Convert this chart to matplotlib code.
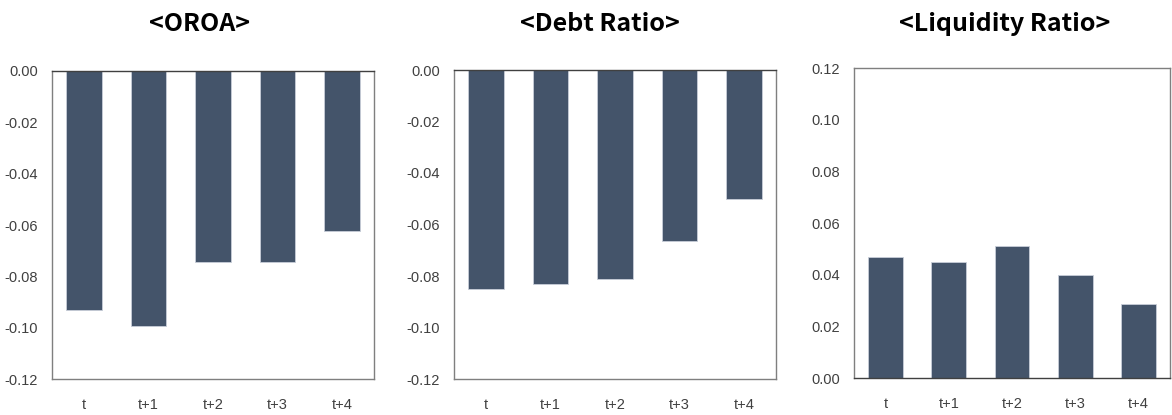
import matplotlib
matplotlib.use("Agg")
import matplotlib.pyplot as plt

categories = ["t", "t+1", "t+2", "t+3", "t+4"]
oroa = [-0.093, -0.0995, -0.0745, -0.0745, -0.0625]
debt_ratio = [-0.085, -0.083, -0.081, -0.0665, -0.050]
liquidity_ratio = [0.047, 0.045, 0.051, 0.040, 0.0285]
titles = ["<OROA>", "<Debt Ratio>", "<Liquidity Ratio>"]
neg_ticks = [0.00, -0.02, -0.04, -0.06, -0.08, -0.10, -0.12]
pos_ticks = [0.00, 0.02, 0.04, 0.06, 0.08, 0.10, 0.12]

tick_font = ["Liberation Sans", "DejaVu Sans"]
title_font = ["Noto Sans CJK KR", "DejaVu Sans"]

BAR = "#44546A"
fig = plt.figure(figsize=(11.72, 4.15), dpi=100)

panels = [
    (oroa, neg_ticks, (-0.12, 0.0), [52, 379, 322, 308], 199),
    (debt_ratio, neg_ticks, (-0.12, 0.0), [454, 379, 322, 309], 600),
    (liquidity_ratio, pos_ticks, (0.0, 0.12), [854, 378, 316, 310], 1005),
]
W, H = 1172, 415
for (vals, ticks, ylim, (l, b, w, h), tx), title in zip(panels, titles):
    ax = fig.add_axes([l / W, (H - b) / H, w / W, h / H])
    x = list(range(len(categories)))
    ax.bar(x, vals, width=0.55, color=BAR, edgecolor="#c8ced8", linewidth=0.6, zorder=2)
    ax.set_xlim(-0.5, len(categories) - 0.5)
    ax.set_ylim(*ylim)
    ax.set_yticks(ticks)
    ax.set_yticklabels([f"{t:.2f}" for t in ticks], family=tick_font, fontsize=10.5, color="#404040")
    ax.set_xticks(x)
    ax.set_xticklabels(categories, family=tick_font, fontsize=10.5, color="#404040")
    ax.tick_params(axis="y", length=0, pad=10)
    ax.tick_params(axis="x", length=0, pad=14)
    for s in ax.spines.values():
        s.set_color("#7f7f7f")
        s.set_linewidth(1.0)
    if ylim[1] == 0.0:
        ax.spines["top"].set_color("#404040")
    else:
        ax.spines["bottom"].set_color("#404040")
    fig.text(tx / W, 1 - 24 / H, title, ha="center", va="center",
             fontsize=18, fontweight="bold", family=title_font)

fig.savefig("out.png", dpi=100)
